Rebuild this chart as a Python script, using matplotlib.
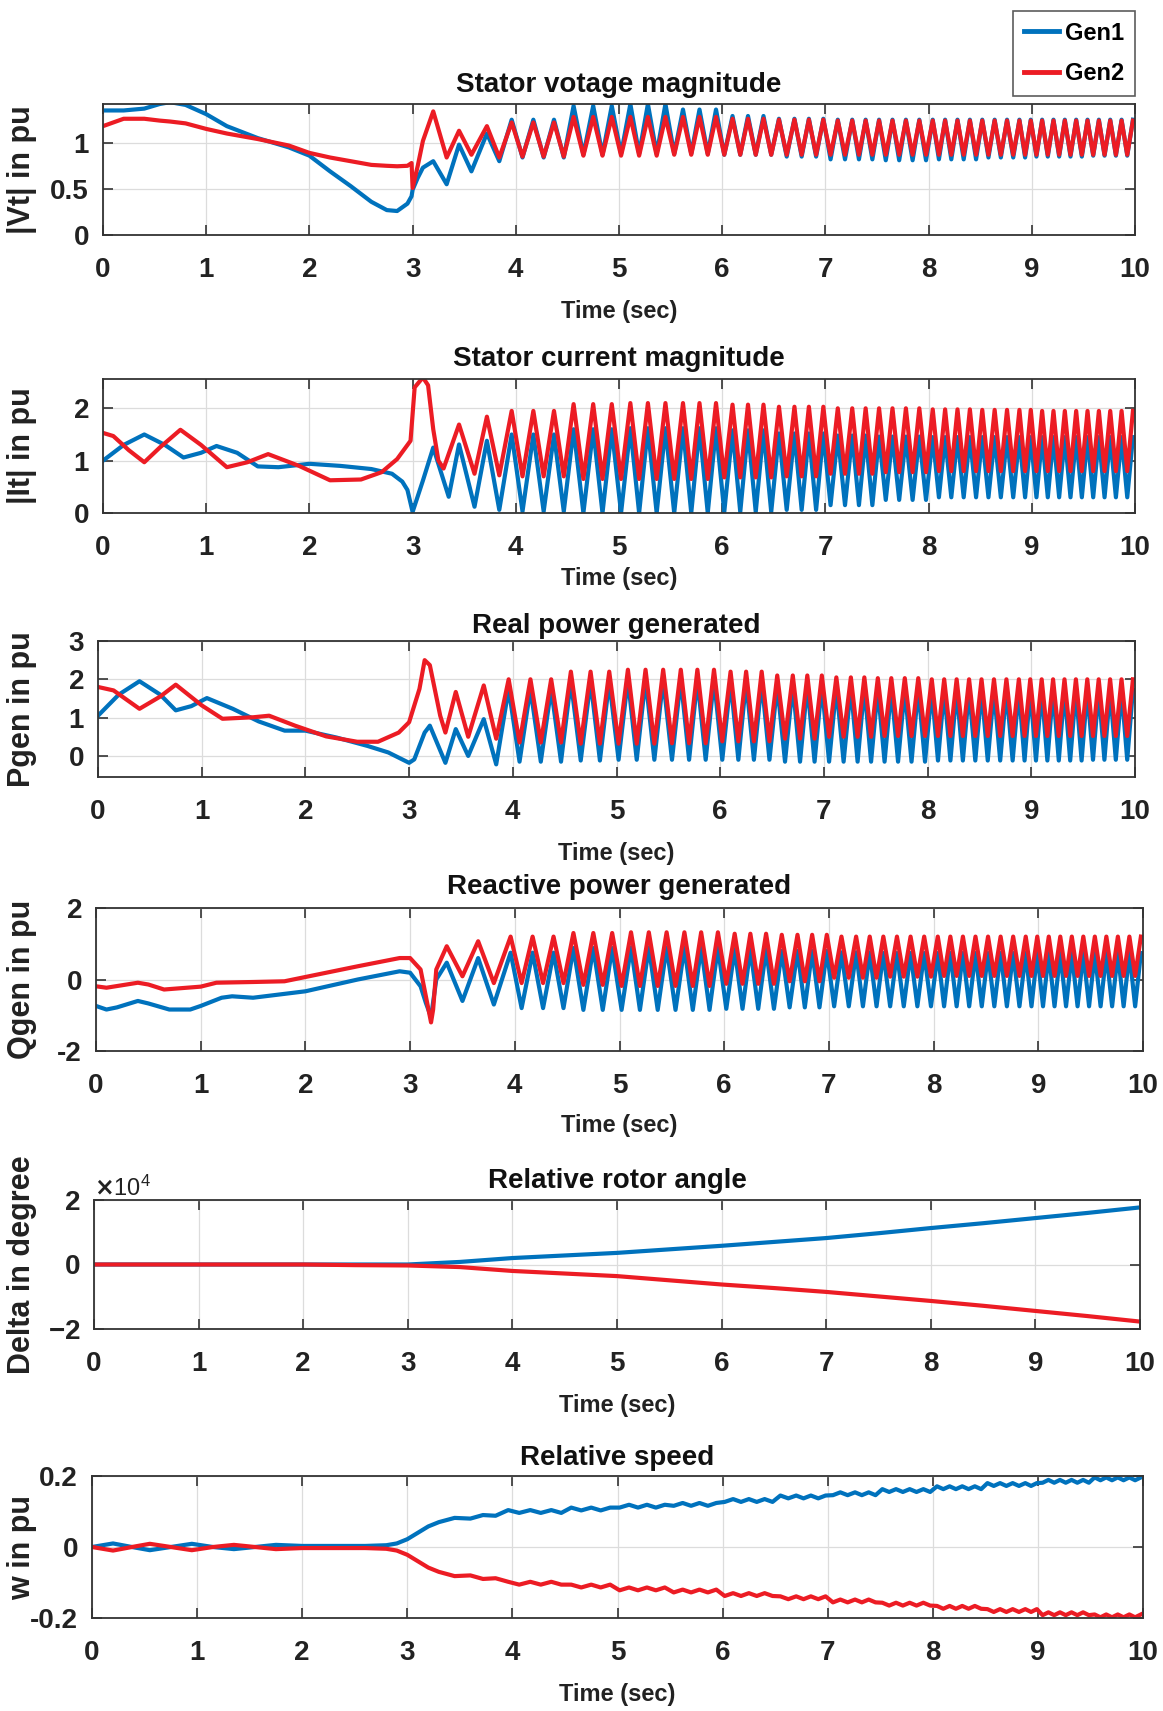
import numpy as np
import matplotlib
matplotlib.use("Agg")
import matplotlib.pyplot as plt
from matplotlib.lines import Line2D

plt.rcParams['font.family'] = ['Liberation Sans', 'DejaVu Sans']
plt.rcParams['font.weight'] = 'bold'
plt.rcParams['axes.unicode_minus'] = False

# ---------------- data ----------------
series_names = ["Gen1", "Gen2"]
time_ticks = [0, 1, 2, 3, 4, 5, 6, 7, 8, 9, 10]

# times of oscillation extremes after the fault (s)
osc_peak_t = [3.96, 4.17, 4.37, 4.56, 4.75, 4.93, 5.11, 5.28, 5.45, 5.62, 5.78, 5.94,
              6.10, 6.25, 6.40, 6.55, 6.70, 6.84, 6.98, 7.12, 7.26, 7.39, 7.52, 7.65,
              7.78, 7.91, 8.04, 8.16, 8.28, 8.40, 8.52, 8.64, 8.76, 8.88, 8.99, 9.10,
              9.21, 9.32, 9.43, 9.54, 9.65, 9.76, 9.87, 9.98]
osc_trough_t = [4.065, 4.27, 4.465, 4.655, 4.84, 5.02, 5.195, 5.365, 5.535, 5.70, 5.86,
                6.02, 6.175, 6.325, 6.475, 6.625, 6.77, 6.91, 7.05, 7.19, 7.325, 7.455,
                7.585, 7.715, 7.845, 7.975, 8.10, 8.22, 8.34, 8.46, 8.58, 8.70, 8.82,
                8.935, 9.045, 9.155, 9.265, 9.375, 9.485, 9.595, 9.705, 9.815, 9.925]
# start of each reading window for the envelope levels
win_start = [3.9, 4.5, 5.0, 5.5, 6.0, 6.5, 7.0, 7.5, 8.0, 8.5, 9.0, 9.5]

# Stator voltage magnitude
t_vt = [0.0, 0.2, 0.4, 0.55, 0.65, 0.8, 1.0, 1.2, 1.5, 1.8, 2.0, 2.2, 2.4, 2.6, 2.75,
        2.85, 2.95, 2.99, 3.0, 3.05, 3.1, 3.2, 3.33, 3.45, 3.57, 3.72, 3.84]
vt_gen1 = [1.35, 1.35, 1.37, 1.42, 1.44, 1.41, 1.31, 1.18, 1.05, 0.95, 0.86, 0.69, 0.53,
           0.36, 0.27, 0.26, 0.34, 0.42, 0.49, 0.62, 0.73, 0.80, 0.55, 0.98, 0.69, 1.10, 0.80]
vt_gen2 = [1.18, 1.26, 1.26, 1.24, 1.23, 1.21, 1.15, 1.10, 1.04, 0.97, 0.89, 0.84, 0.80,
           0.76, 0.75, 0.745, 0.75, 0.78, 0.51, 0.75, 1.02, 1.34, 0.84, 1.13, 0.87, 1.18, 0.84]
vt_gen1_hi = [1.25, 1.40, 1.42, 1.36, 1.29, 1.26, 1.25, 1.25, 1.25, 1.25, 1.25, 1.25]
vt_gen1_lo = [0.84, 0.87, 0.88, 0.88, 0.87, 0.85, 0.82, 0.81, 0.82, 0.84, 0.85, 0.86]
vt_gen2_hi = [1.22, 1.28, 1.28, 1.28, 1.26, 1.25, 1.24, 1.24, 1.24, 1.24, 1.24, 1.24]
vt_gen2_lo = [0.85, 0.86, 0.86, 0.87, 0.87, 0.87, 0.87, 0.87, 0.87, 0.87, 0.87, 0.87]

# Stator current magnitude
t_it_gen1 = [0.0, 0.2, 0.4, 0.6, 0.78, 0.95, 1.1, 1.3, 1.5, 1.7, 2.0, 2.3, 2.6, 2.8, 2.9,
             2.95, 3.0, 3.1, 3.2, 3.35, 3.45, 3.6, 3.72, 3.84]
it_gen1 = [1.0, 1.3, 1.5, 1.3, 1.06, 1.15, 1.28, 1.15, 0.89, 0.875, 0.94, 0.9, 0.84, 0.75,
           0.6, 0.44, 0.02, 0.62, 1.25, 0.31, 1.31, 0.12, 1.38, 0.06]
t_it_gen2 = [0.0, 0.1, 0.25, 0.4, 0.55, 0.75, 0.95, 1.2, 1.4, 1.6, 1.9, 2.2, 2.5, 2.7, 2.85,
             2.98, 3.02, 3.1, 3.15, 3.2, 3.25, 3.3, 3.45, 3.6, 3.72, 3.84]
it_gen2 = [1.53, 1.47, 1.2, 0.97, 1.25, 1.59, 1.3, 0.875, 0.97, 1.125, 0.9, 0.625, 0.64,
           0.78, 1.03, 1.38, 2.4, 2.59, 2.44, 1.6, 1.0, 0.85, 1.69, 0.75, 1.84, 0.72]
it_gen1_hi = [1.50, 1.60, 1.62, 1.62, 1.58, 1.52, 1.48, 1.46, 1.45, 1.45, 1.45, 1.45]
it_gen1_lo = [0.03, 0.0, 0.0, 0.0, 0.02, 0.06, 0.15, 0.25, 0.30, 0.30, 0.30, 0.30]
it_gen2_hi = [1.95, 2.08, 2.10, 2.10, 2.07, 2.03, 2.00, 2.00, 1.98, 1.97, 1.95, 1.95]
it_gen2_lo = [0.70, 0.65, 0.65, 0.65, 0.68, 0.70, 0.75, 0.78, 0.80, 0.80, 0.80, 0.80]

# Real power generated
t_p_gen1 = [0.0, 0.2, 0.4, 0.6, 0.75, 0.9, 1.05, 1.3, 1.55, 1.8, 2.0, 2.3, 2.6, 2.8, 3.0,
            3.05, 3.15, 3.2, 3.35, 3.45, 3.57, 3.72, 3.84]
p_gen1 = [1.05, 1.6, 1.95, 1.6, 1.19, 1.3, 1.51, 1.23, 0.9, 0.66, 0.66, 0.48, 0.26, 0.09,
          -0.18, -0.09, 0.61, 0.79, -0.18, 0.70, 0.0, 0.96, -0.22]
t_p_gen2 = [0.0, 0.15, 0.4, 0.6, 0.75, 1.0, 1.2, 1.5, 1.65, 1.9, 2.2, 2.5, 2.7, 2.9, 3.0,
            3.1, 3.15, 3.2, 3.3, 3.35, 3.45, 3.57, 3.72, 3.84]
p_gen2 = [1.8, 1.71, 1.23, 1.55, 1.86, 1.32, 0.97, 1.01, 1.05, 0.79, 0.51, 0.37, 0.37,
          0.61, 0.88, 1.75, 2.5, 2.37, 1.05, 0.61, 1.67, 0.5, 1.84, 0.45]
p_gen1_hi = [1.75, 1.95, 2.00, 2.00, 1.95, 1.85, 1.80, 1.75, 1.72, 1.72, 1.72, 1.72]
p_gen1_lo = [-0.15, -0.12, -0.10, -0.10, -0.10, -0.15, -0.15, -0.15, -0.12, -0.12, -0.12, -0.10]
p_gen2_hi = [2.00, 2.20, 2.25, 2.25, 2.20, 2.10, 2.05, 2.03, 2.00, 2.00, 2.00, 2.00]
p_gen2_lo = [0.35, 0.32, 0.32, 0.33, 0.38, 0.45, 0.50, 0.52, 0.52, 0.52, 0.52, 0.52]

# Reactive power generated
t_q_gen1 = [0.0, 0.1, 0.2, 0.4, 0.5, 0.7, 0.9, 1.0, 1.2, 1.3, 1.5, 2.0, 2.5, 2.9, 3.0,
            3.1, 3.15, 3.2, 3.25, 3.35, 3.5, 3.65, 3.8]
q_gen1 = [-0.74, -0.84, -0.78, -0.6, -0.67, -0.84, -0.84, -0.74, -0.51, -0.47, -0.51,
          -0.33, 0.0, 0.23, 0.19, -0.19, -0.65, -1.05, 0.0, 0.47, -0.6, 0.6, -0.7]
t_q_gen2 = [0.0, 0.1, 0.4, 0.5, 0.65, 1.0, 1.15, 1.5, 1.8, 2.0, 2.5, 2.9, 3.0, 3.1, 3.2,
            3.22, 3.25, 3.35, 3.5, 3.65, 3.8]
q_gen2 = [-0.19, -0.23, -0.09, -0.14, -0.28, -0.2, -0.09, -0.07, -0.05, 0.07, 0.37, 0.6,
          0.6, 0.28, -1.2, -0.84, 0.28, 0.93, 0.09, 1.07, -0.1]
q_gen1_hi = [0.75, 0.88, 0.90, 0.90, 0.85, 0.80, 0.76, 0.74, 0.74, 0.74, 0.74, 0.74]
q_gen1_lo = [-0.80, -0.85, -0.85, -0.85, -0.82, -0.78, -0.75, -0.75, -0.75, -0.75, -0.75, -0.75]
q_gen2_hi = [1.20, 1.30, 1.32, 1.32, 1.28, 1.25, 1.20, 1.20, 1.20, 1.20, 1.20, 1.20]
q_gen2_lo = [-0.10, -0.15, -0.18, -0.18, -0.12, -0.05, 0.05, 0.08, 0.10, 0.10, 0.10, 0.10]

# Relative rotor angle (degree)
t_delta = [0, 1, 2, 2.5, 3, 3.5, 4, 4.5, 5, 5.5, 6, 6.5, 7, 7.5, 8, 8.5, 9, 9.5, 10]
delta_gen1 = [0, 0, 0, 0, 0, 800, 2000, 2800, 3600, 4700, 5800, 7000, 8200, 9700, 11300,
              12800, 14400, 16000, 17700]
delta_gen2 = [0, 0, 0, -200, -300, -800, -2000, -2800, -3600, -4900, -6200, -7300, -8500,
              -9900, -11300, -12800, -14400, -16000, -17700]

# Relative speed
t_w = [0.0, 0.2, 0.38, 0.55, 0.75, 0.95, 1.15, 1.35, 1.55, 1.75, 2.0, 2.3, 2.6, 2.8, 2.9,
       3.0, 3.1, 3.2, 3.3, 3.45, 3.6, 3.72, 3.84]
w_gen1 = [0.0, 0.01, 0.0, -0.009, 0.0, 0.009, 0.0, -0.006, 0.0, 0.006, 0.003, 0.003, 0.003,
          0.005, 0.01, 0.022, 0.04, 0.058, 0.07, 0.082, 0.08, 0.09, 0.088]
w_gen2 = [0.0, -0.01, 0.0, 0.009, 0.0, -0.009, 0.0, 0.006, 0.0, -0.006, -0.003, -0.003,
          -0.003, -0.005, -0.01, -0.022, -0.04, -0.058, -0.07, -0.082, -0.08, -0.09, -0.088]
w_gen1_hi = [0.104, 0.111, 0.119, 0.124, 0.135, 0.145, 0.154, 0.163, 0.171, 0.180, 0.189, 0.196]
w_gen1_lo = [0.096, 0.103, 0.111, 0.116, 0.127, 0.137, 0.146, 0.155, 0.163, 0.172, 0.181, 0.188]
w_gen2_hi = [-0.098, -0.106, -0.114, -0.120, -0.130, -0.139, -0.148, -0.157, -0.166, -0.175, -0.184, -0.190]
w_gen2_lo = [-0.106, -0.114, -0.122, -0.128, -0.138, -0.147, -0.156, -0.165, -0.174, -0.183, -0.192, -0.198]

# ---------------- assembling ----------------
def full_series(t_pre, v_pre, hi=None, lo=None):
    t_pre = np.asarray(t_pre, float)
    v_pre = np.asarray(v_pre, float)
    if hi is None:
        return t_pre, v_pre
    tp = np.asarray(osc_peak_t)
    tt = np.asarray(osc_trough_t)
    ip = np.searchsorted(win_start, tp, side='right') - 1
    it = np.searchsorted(win_start, tt, side='right') - 1
    t = np.concatenate([t_pre, tp, tt])
    v = np.concatenate([v_pre, np.asarray(hi)[ip], np.asarray(lo)[it]])
    o = np.argsort(t, kind='stable')
    return t[o], v[o]

BLUE = '#0072BD'
RED = '#EC1C24'
LW = 3.0
W, H = 1163, 1711

fig = plt.figure(figsize=(W / 100, H / 100), dpi=100)

def make_ax(L, R, T, B):
    return fig.add_axes([L / W, 1 - B / H, (R - L) / W, (B - T) / H])

panels = [
    dict(box=(103, 1135, 104, 235), title='Stator votage magnitude', ylabel='|Vt| in pu',
         ylim=(0, 1.42), yticks=[0, 0.5, 1], yticklabels=['0', '0.5', '1'], tpad=9, xpad=12,
         s1=full_series(t_vt, vt_gen1, vt_gen1_hi, vt_gen1_lo),
         s2=full_series(t_vt, vt_gen2, vt_gen2_hi, vt_gen2_lo)),
    dict(box=(103, 1135, 379, 513), title='Stator current magnitude', ylabel='|It| in pu',
         ylim=(0, 2.56), yticks=[0, 1, 2], yticklabels=['0', '1', '2'], tpad=9, xpad=4,
         s1=full_series(t_it_gen1, it_gen1, it_gen1_hi, it_gen1_lo),
         s2=full_series(t_it_gen2, it_gen2, it_gen2_hi, it_gen2_lo)),
    dict(box=(98, 1135, 641, 777), title='Real power generated', ylabel='Pgen in pu',
         ylim=(-0.55, 3.0), yticks=[0, 1, 2, 3], yticklabels=['0', '1', '2', '3'], tpad=6, xpad=12,
         s1=full_series(t_p_gen1, p_gen1, p_gen1_hi, p_gen1_lo),
         s2=full_series(t_p_gen2, p_gen2, p_gen2_hi, p_gen2_lo)),
    dict(box=(96, 1143, 908, 1051), title='Reactive power generated', ylabel='Qgen in pu',
         ylim=(-2, 2), yticks=[-2, 0, 2], yticklabels=['-2', '0', '2'], tpad=10, xpad=10.5,
         s1=full_series(t_q_gen1, q_gen1, q_gen1_hi, q_gen1_lo),
         s2=full_series(t_q_gen2, q_gen2, q_gen2_hi, q_gen2_lo)),
    dict(box=(94, 1140, 1200, 1329), title='Relative rotor angle', ylabel='Delta in degree',
         ylim=(-20000, 20000), yticks=[-20000, 0, 20000], yticklabels=None, tpad=9, xpad=12,
         s1=full_series(t_delta, delta_gen1), s2=full_series(t_delta, delta_gen2)),
    dict(box=(92, 1143, 1476, 1618), title='Relative speed', ylabel='w in pu',
         ylim=(-0.2, 0.2), yticks=[-0.2, 0, 0.2], yticklabels=['-0.2', '0', '0.2'], tpad=8, xpad=12,
         s1=full_series(t_w, w_gen1, w_gen1_hi, w_gen1_lo),
         s2=full_series(t_w, w_gen2, w_gen2_hi, w_gen2_lo)),
]

for p in panels:
    L, R, T, B = p['box']
    ax = make_ax(L, R, T, B)
    ax.plot(*p['s1'], color=BLUE, lw=LW, solid_joinstyle='round')
    ax.plot(*p['s2'], color=RED, lw=LW, solid_joinstyle='round')
    ax.set_xlim(0, 10)
    ax.set_ylim(*p['ylim'])
    ax.set_xticks(time_ticks)
    ax.set_xticklabels([str(v) for v in time_ticks])
    ax.set_yticks(p['yticks'])
    if p['yticklabels'] is not None:
        ax.set_yticklabels(p['yticklabels'])
    else:
        ax.ticklabel_format(axis='y', style='sci', scilimits=(0, 0), useMathText=True)
        ot = ax.yaxis.get_offset_text()
        ot.set_fontsize(17)
        ot.set_fontweight('normal')
    ax.grid(True, color='#dcdcdc', lw=0.9)
    ax.set_axisbelow(True)
    for sp in ax.spines.values():
        sp.set_color('#333333')
        sp.set_linewidth(1.3)
    ax.tick_params(direction='in', top=True, right=True, length=7, width=1.2,
                   colors='#333333', labelcolor='#222222', labelsize=20)
    ax.tick_params(axis='x', pad=16)
    ax.tick_params(axis='y', pad=10)
    for lab in ax.get_xticklabels() + ax.get_yticklabels():
        lab.set_fontweight('bold')
    ax.set_title(p['title'], fontsize=20, fontweight='bold', pad=p['tpad'], color='#111111')
    ax.set_xlabel('Time (sec)', fontsize=17, fontweight='bold', labelpad=p['xpad'],
                  color='#222222')
    ax.set_ylabel(p['ylabel'], fontsize=22, fontweight='bold', color='#222222')
    ax.yaxis.set_label_coords((37 - L) / (R - L), 0.5)

handles = [Line2D([], [], color=BLUE, lw=3.5), Line2D([], [], color=RED, lw=3.5)]
leg = fig.legend(handles, series_names, loc='upper right',
                 bbox_to_anchor=(1135 / W, 1 - 11 / H), fontsize=17, frameon=True,
                 fancybox=False, edgecolor='#333333', handlelength=1.5, handletextpad=0.25,
                 borderpad=0.45, labelspacing=0.75, borderaxespad=0)
leg.get_frame().set_linewidth(1.2)
for txt in leg.get_texts():
    txt.set_fontweight('bold')

fig.savefig('out.png', dpi=100)
